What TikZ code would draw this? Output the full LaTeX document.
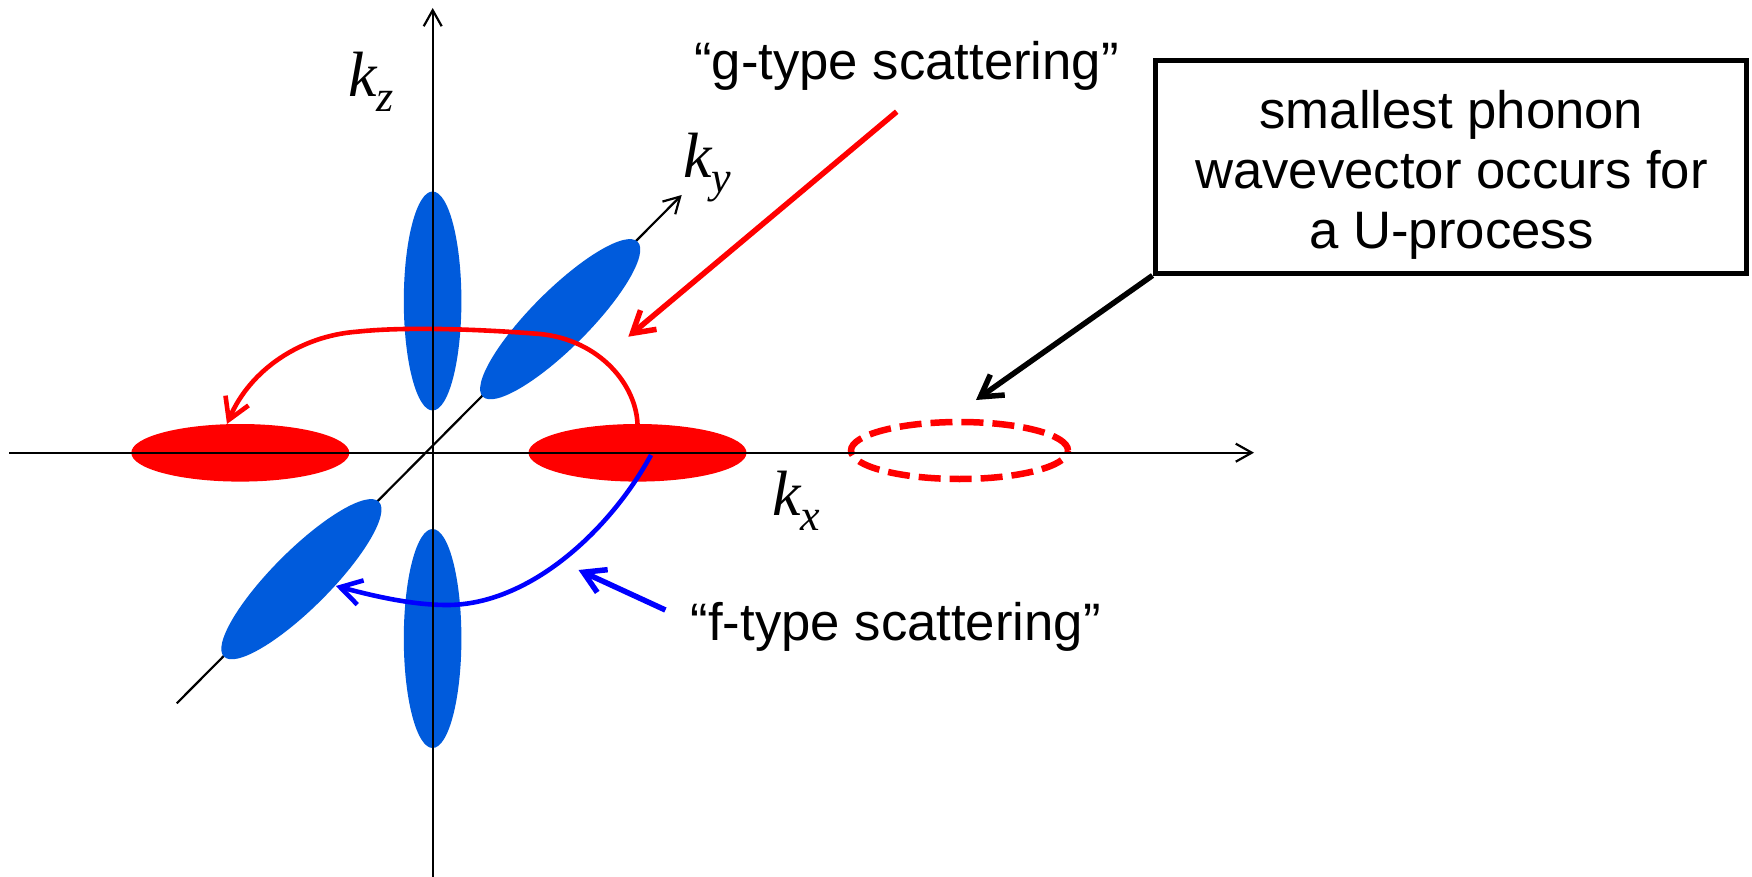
\documentclass[tikz,border=0pt]{standalone}
\usepackage{fontspec}
\setmainfont{Liberation Sans}
\newfontfamily\kserif{Liberation Serif}
\usetikzlibrary{arrows.meta,shapes.geometric}
\definecolor{ellblue}{RGB}{0,91,220}
\definecolor{pred}{RGB}{255,0,0}
\definecolor{pblue}{RGB}{0,0,255}
\newcommand{\kidx}[1]{\raisebox{-15pt}{\fontsize{44}{44}\selectfont #1}}
\begin{document}
\begin{tikzpicture}[x=1pt,y=-1pt,
  axisline/.style={line width=2.2pt,-{Straight Barb[length=16pt,width=18pt]}},
  thickarrow/.style={-{Straight Barb[length=21pt,width=25pt]}},
  redblob/.style={ellipse,fill=pred,minimum width=218pt,minimum height=57.6pt,inner sep=0pt,outer sep=0pt},
  blueblob/.style={ellipse,fill=ellblue,minimum width=219pt,minimum height=57.6pt,inner sep=0pt,outer sep=0pt},
  dashblob/.style={ellipse,draw=pred,line width=6.5pt,dash pattern=on 22pt off 9pt,minimum width=217pt,minimum height=57pt,inner sep=0pt},
  klabel/.style={font=\kserif\itshape\fontsize{64}{64}\selectfont,inner sep=0pt,anchor=base west},
  txt/.style={font=\fontsize{52.7}{60}\selectfont,inner sep=0pt},
]
\useasboundingbox[fill=white] (0,0) rectangle (1752,877);

% axis end points
\coordinate (xS) at (9,452.7);
\coordinate (xE) at (1254,452.7);
\coordinate (zS) at (432.7,877);
\coordinate (zE) at (432.7,8);
\coordinate (yS) at (176.8,703.3);
\coordinate (yE) at (681.7,195);

% diagonal axis (under the blobs)
\draw[axisline] (yS) -- (yE);

% blobs
\node[blueblob,rotate=90] (bTop) at (432.6,301) {};
\node[blueblob,rotate=90] (bBot) at (432.6,638.5) {};
\node[blueblob,rotate=45] (bUp) at (560.2,319.2) {};
\node[blueblob,rotate=45] (bLow) at (301.4,579.2) {};
\node[redblob] (rL) at (240.3,452.8) {};
\node[redblob] (rR) at (637.5,452.8) {};
\node[dashblob] (rU) at (959.5,450.5) {};

% labels
\node[klabel] (kz) at (348,97) {k\kidx{z}};
\node[klabel] (ky) at (683,178) {k\kidx{y}};
\node[klabel] (kx) at (772,515) {k\kidx{x}};

\node[txt,anchor=base west] (gtxt) at (694,79.5) {“g-type scattering”};
\node[txt,anchor=base west] (ftxt) at (690.5,640) {“f-type scattering”};

\node[draw,line width=5pt,minimum width=591pt,minimum height=212pt,inner sep=0pt] (ubox) at (1450.5,167) {};
\node[txt,align=center] (utext) at (1451.5,175) {smallest phonon\\wavevector occurs for\\a U-process};

% connectors
\coordinate (gtip) at (227,424);
\coordinate (gtail) at (896.7,111.7);
\coordinate (ghead) at (628.3,336.7);
\coordinate (bstart) at (651,455);
\coordinate (btip) at (335.8,586);
\coordinate (ftail) at (665.4,610);
\coordinate (fhead) at (578.5,570);
\coordinate (uhead) at (976,400);

\draw[pred,line width=4.6pt,thickarrow] (rR.north) .. controls (636,385) and (600,340) .. (540,334)
  .. controls (490,330) and (410,326) .. (357,331.7)
  .. controls (300,336) and (250,370) .. (gtip);
\draw[pred,line width=5.5pt,thickarrow] (gtail) -- (ghead);
\draw[pblue,line width=4.6pt,thickarrow] (bstart) .. controls (610,530) and (530,605) .. (447,605)
  .. controls (410,605) and (370,595) .. (btip);
\draw[pblue,line width=5.5pt,thickarrow] (ftail) -- (fhead);
\draw[black,line width=5.5pt,thickarrow] (ubox.south west) -- (uhead);

% main axes on top
\draw[axisline] (xS) -- (xE);
\draw[axisline] (zS) -- (zE);
\end{tikzpicture}
\end{document}
